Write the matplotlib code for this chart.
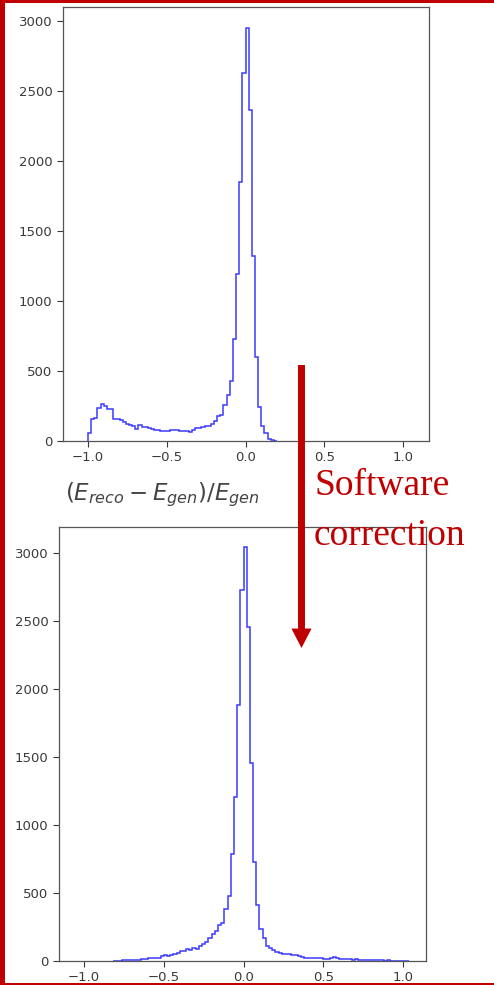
import numpy as np
import matplotlib
matplotlib.use("Agg")
import matplotlib.pyplot as plt
from matplotlib.patches import Rectangle, FancyArrowPatch

# bin edges shared by both histograms (width 0.02)
edges = np.round(np.arange(-1.0, 1.0601, 0.02), 2)

# before correction: counts per bin, starting at -1.00
counts_before = [
    57, 160, 165, 235, 262, 250, 232, 228, 160, 158,
    150, 138, 122, 115, 110, 85, 115, 100, 102, 92,
    85, 80, 77, 72, 70, 72, 80, 76, 78, 70,
    72, 68, 66, 80, 95, 92, 100, 110, 106, 125,
    140, 180, 186, 260, 330, 430, 726, 1193, 1850, 2631,
    2948, 2364, 1321, 602, 245, 105, 57, 14, 5, 3,
]

# after correction: counts per bin, starting at -0.82
counts_after = [
    3, 2, 3, 4, 4, 5, 6, 7, 9, 12,
    17, 20, 21, 22, 25, 38, 44, 34, 42, 52,
    62, 70, 72, 88, 80, 98, 85, 110, 123, 142,
    167, 196, 221, 265, 282, 383, 479, 791, 1208, 1886,
    2734, 3046, 2456, 1461, 732, 413, 236, 170, 110, 96,
    81, 66, 60, 55, 52, 48, 45, 42, 40, 30,
    25, 24, 22, 25, 20, 20, 18, 17, 22, 30,
    20, 16, 14, 12, 13, 10, 12, 8, 7, 6,
    5, 4, 8, 5, 4, 3, 4, 3, 3, 2,
    3, 2, 2,
]
after_start = 9  # index of -0.82 in edges

yticks = [0, 500, 1000, 1500, 2000, 2500, 3000]
xticks = [-1.0, -0.5, 0.0, 0.5, 1.0]

line_color = "#3b3bff"
red = "#c00000"
gray = "#3a3a3a"

fig = plt.figure(figsize=(4.94, 9.85), dpi=100)

ax1 = fig.add_axes([63 / 494, 1 - 441 / 985, 366 / 494, 434 / 985])
ax2 = fig.add_axes([59 / 494, 1 - 961 / 985, 367 / 494, 434 / 985])

ax1.stairs(counts_before, edges[:len(counts_before) + 1], color=line_color,
           linewidth=1.1, baseline=0)
ax2.stairs(counts_after, edges[after_start:after_start + len(counts_after) + 1],
           color=line_color, linewidth=1.1, baseline=0)

ax1.set_xlim(-1.159, 1.165)
ax1.set_ylim(0, 3100)
ax2.set_xlim(-1.157, 1.144)
ax2.set_ylim(0, 3195)

for ax in (ax1, ax2):
    ax.set_xticks(xticks)
    ax.set_yticks(yticks)
    ax.tick_params(labelsize=9.5, colors=gray, length=4, width=0.8)
    for s in ax.spines.values():
        s.set_color("#555555")
        s.set_linewidth(0.9)

fig.text(65 / 494, 1 - 495 / 985, r"$(E_{reco} - E_{gen})/E_{gen}$",
         fontsize=16.5, color="#444444", va="center", ha="left")

# red frame of the slide
fig.add_artist(Rectangle((0, 0), 5 / 494, 1, transform=fig.transFigure,
                         color=red, lw=0))
fig.add_artist(Rectangle((0, 1 - 3 / 985), 1, 3 / 985, transform=fig.transFigure,
                         color=red, lw=0))
fig.add_artist(Rectangle((0, 0), 1, 2 / 985, transform=fig.transFigure,
                         color=red, lw=0))

arrow = FancyArrowPatch((301.5 / 494, 1 - 365 / 985), (301.5 / 494, 1 - 648 / 985),
                        transform=fig.transFigure, color=red, lw=0,
                        arrowstyle="simple,head_length=14,head_width=14.5,tail_width=5",
                        mutation_scale=1, shrinkA=0, shrinkB=0)
fig.add_artist(arrow)

fig.text(314 / 494, 1 - 495 / 985, "Software", color=red, fontsize=27,
         family="Liberation Serif", va="baseline", ha="left")
fig.text(314 / 494, 1 - 545 / 985, "correction", color=red, fontsize=27,
         family="Liberation Serif", va="baseline", ha="left")

fig.savefig("out.png", dpi=100)
